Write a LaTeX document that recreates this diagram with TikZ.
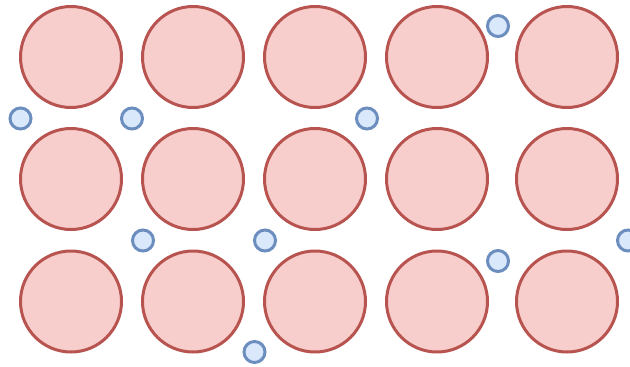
\documentclass[tikz,border=0pt]{standalone}
\usetikzlibrary{positioning}
\definecolor{grainfill}{HTML}{F8CECC}
\definecolor{graindraw}{HTML}{B85450}
\definecolor{atomfill}{HTML}{DAE8FC}
\definecolor{atomdraw}{HTML}{6C8EBF}
\begin{document}
\begin{tikzpicture}[x=1pt, y=-1pt,
  grain/.style={draw=graindraw, fill=grainfill, circle, line width=3pt, minimum size=101pt, inner sep=0pt},
  atom/.style={draw=atomdraw, fill=atomfill, circle, line width=3pt, minimum size=21pt, inner sep=0pt}]
\clip (0,0) rectangle (630,367);
\useasboundingbox (0,0) rectangle (630,367);

% the big spheres: three rows of five
\foreach \row/\yy in {1/57, 2/179, 3/301.5}
  \foreach \col/\xx in {1/71, 2/193, 3/315, 4/437, 5/567}
    \node[grain] (g\row\col) at (\xx,\yy) {};

% the small ones in the gaps
\node[atom] (a1) at (20.5,118.5) {};
\node[atom] (a2) at (132,118.5) {};
\node[atom] (a3) at (367,118.5) {};
\node[atom] (a4) at (498,26) {};
\node[atom] (a5) at (143,240.5) {};
\node[atom] (a6) at (265,240.5) {};
\node[atom] (a7) at (498,261) {};
\node[atom] (a8) at (628,240.5) {};
\node[atom] (a9) at (254.5,352) {};

\end{tikzpicture}
\end{document}
